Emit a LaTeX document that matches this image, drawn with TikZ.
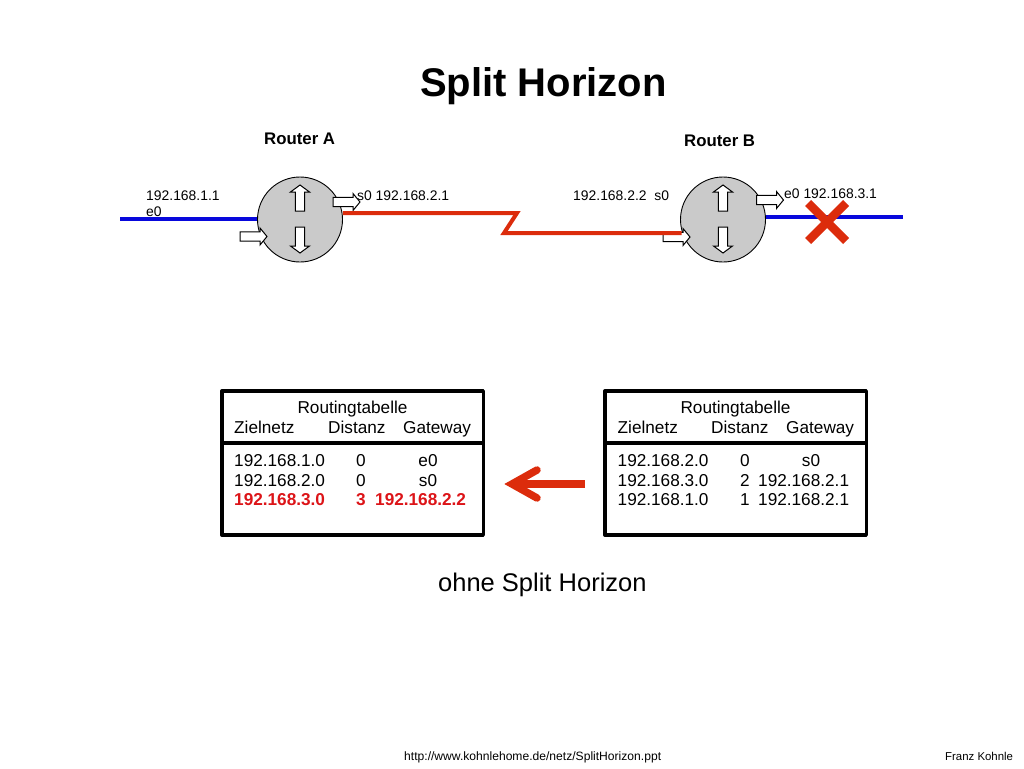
\documentclass[tikz,border=0pt]{standalone}
\usepackage{fontspec}
\setmainfont{Liberation Sans}
\usetikzlibrary{arrows.meta}
\definecolor{linkred}{HTML}{DC2C0C}
\definecolor{linkblue}{HTML}{0808DC}
\definecolor{textred}{HTML}{DC1418}
\definecolor{routergray}{HTML}{CACACA}
\newcommand{\fs}[1]{\fontsize{#1}{#1}\selectfont}
\tikzset{
  x=1pt,y=-1pt,
  lbl/.style={anchor=base west,inner sep=0pt,font=\fs{13.9}},
  ctrlbl/.style={anchor=base,inner sep=0pt,font=\fs{17.2}},
  tbl/.style={anchor=base west,inner sep=0pt,font=\fs{17.2}},
  redtbl/.style={tbl,text=textred,font=\fs{17.2}\bfseries},
  redctr/.style={ctrlbl,text=textred,font=\fs{17.2}\bfseries},
  rtitle/.style={anchor=base west,inner sep=0pt,font=\fs{16.8}\bfseries},
  foot/.style={anchor=base west,inner sep=0pt},
  router/.style={circle,draw=black,fill=routergray,line width=0.9pt,minimum size=85pt,inner sep=0pt},
  blu/.style={draw=linkblue,line width=4pt},
  rd/.style={draw=linkred,line width=4pt,line join=miter},
  tablebox/.style={draw=black,line width=3.5pt,line join=round},
  blockr/.pic={\draw[fill=white,draw=black,line width=1pt] (-13.5,-4.7)--(6.5,-4.7)--(6.5,-8.5)--(13.5,0)--(6.5,8.5)--(6.5,4.7)--(-13.5,4.7)--cycle;},
  blocku/.pic={\draw[fill=white,draw=black,line width=1pt] (-4.7,13)--(-4.7,-6)--(-9.5,-6)--(0,-13)--(9.5,-6)--(4.7,-6)--(4.7,13)--cycle;},
  blockd/.pic={\draw[fill=white,draw=black,line width=1pt] (-4.7,-13)--(-4.7,6)--(-9.5,6)--(0,13)--(9.5,6)--(4.7,6)--(4.7,-13)--cycle;},
}
\begin{document}
\begin{tikzpicture}
\useasboundingbox (0,0) rectangle (1024,768);
\node[anchor=base west,inner sep=0pt,font=\fs{40}\bfseries] (title) at (420,96) {Split Horizon};
\node[rtitle] (ra) at (264,144) {Router A};
\node[rtitle] (rb) at (684,146) {Router B};
\node[lbl] (l1) at (146,200) {192.168.1.1};
\node[lbl] (l2) at (146,216.5) {e0};
\node[lbl] (l3) at (357,200) {s0 192.168.2.1};
\node[lbl] (l4) at (573,200) {192.168.2.2\ \ s0};
\node[lbl] (l5) at (784,198) {e0 192.168.3.1};
% routers
\node[router] (A) at (300,219.5) {};
\node[router] (B) at (723,219.5) {};
% links
\coordinate (bluea) at (120,219);
\coordinate (blueb) at (903,217);
\coordinate (z1) at (517,213);
\coordinate (z2) at (504,233);
\path[blu] (bluea) -- (A.west |- bluea);
\pic at (253.5,236.5) {blockr};
\pic at (346.5,202) {blockr};
\pic at (676.5,237) {blockr};
\pic at (770,200) {blockr};
\path[rd] (A.east |- z1) -- (z1) -- (z2) -- (z2 -| B.195);
\path[blu] (B.east |- blueb) -- (blueb);
\pic at (300,198) {blocku};
\pic at (300,240) {blockd};
\pic at (723,198) {blocku};
\pic at (723,240) {blockd};
% cross
\coordinate (x1) at (808,203);
\coordinate (x2) at (846,241);
\coordinate (x3) at (846,203);
\coordinate (x4) at (808,241);
\draw[linkred,line width=8.5pt] (x1) -- (x2) (x3) -- (x4);
% left table
\node[tablebox,minimum width=261.5pt,minimum height=144pt,inner sep=0pt] (T1) at (352.5,463) {};
\draw[tablebox] (T1.west |- 0,443) -- (T1.east |- 0,443);
\node[ctrlbl] (t1h) at (352.5,413) {Routingtabelle};
\node[tbl] (t1a) at (234,433) {Zielnetz};
\node[tbl] (t1b) at (328,433) {Distanz};
\node[tbl] (t1c) at (403,433) {Gateway};
\node[tbl] (t1d) at (234,466) {192.168.1.0};
\node[ctrlbl] (t1e) at (361,466) {0};
\node[ctrlbl] (t1f) at (428,466) {e0};
\node[tbl] (t1g) at (234,486) {192.168.2.0};
\node[ctrlbl] (t1i) at (361,486) {0};
\node[ctrlbl] (t1j) at (428,486) {s0};
\node[redtbl] (t1k) at (234,505.5) {192.168.3.0};
\node[redctr] (t1l) at (361,505.5) {3};
\node[redtbl] (t1m) at (375,505.5) {192.168.2.2};
% right table
\node[tablebox,minimum width=261.5pt,minimum height=144pt,inner sep=0pt] (T2) at (735.5,463) {};
\draw[tablebox] (T2.west |- 0,443) -- (T2.east |- 0,443);
\node[ctrlbl] (t2h) at (735.5,413) {Routingtabelle};
\node[tbl] (t2a) at (617.5,433) {Zielnetz};
\node[tbl] (t2b) at (711,433) {Distanz};
\node[tbl] (t2c) at (786,433) {Gateway};
\node[tbl] (t2d) at (617.5,466) {192.168.2.0};
\node[ctrlbl] (t2e) at (745,466) {0};
\node[ctrlbl] (t2f) at (811,466) {s0};
\node[tbl] (t2g) at (617.5,486) {192.168.3.0};
\node[ctrlbl] (t2i) at (745,486) {2};
\node[tbl] (t2j) at (758,486) {192.168.2.1};
\node[tbl] (t2k) at (617.5,505.5) {192.168.1.0};
\node[ctrlbl] (t2l) at (745,505.5) {1};
\node[tbl] (t2m) at (758,505.5) {192.168.2.1};
% big arrow
\coordinate (gs) at (585,484);
\coordinate (gt) at (512,484);
\coordinate (gu) at (537,470);
\coordinate (gd) at (537,498);
\draw[linkred,line width=8pt] (gs) -- (gt);
\draw[linkred,line width=7.5pt,line cap=round,line join=miter] (gu) -- (gt) -- (gd);
\node[anchor=base west,inner sep=0pt,font=\fs{25.5}] (sub) at (438,591) {ohne Split Horizon};
\node[foot,font=\fs{12.1}] (f1) at (404,760) {http://www.kohnlehome.de/netz/SplitHorizon.ppt};
\node[foot,font=\fs{11.4}] (f2) at (945,760) {Franz Kohnle};
\end{tikzpicture}
\end{document}
